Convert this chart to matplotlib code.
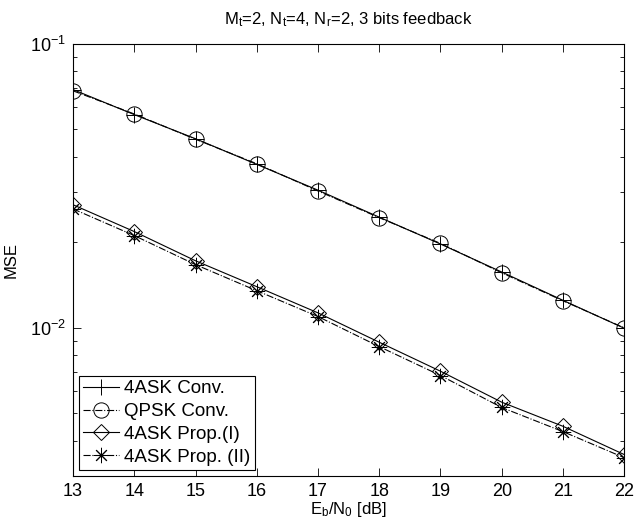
import matplotlib
matplotlib.use("Agg")
import matplotlib.pyplot as plt
from matplotlib.ticker import LogLocator, NullFormatter, FixedLocator

plt.rcParams['font.family'] = ['Liberation Sans', 'DejaVu Sans']
plt.rcParams['mathtext.fontset'] = 'custom'
plt.rcParams['mathtext.rm'] = 'Liberation Sans'
plt.rcParams['mathtext.it'] = 'Liberation Sans'

# --- dati ---
ebn0 = [13, 14, 15, 16, 17, 18, 19, 20, 21, 22]
mse_4ask_conv = [0.0690, 0.0563, 0.0463, 0.0376, 0.0305, 0.0245, 0.0197, 0.0157, 0.01248, 0.00995]
mse_qpsk_conv = [0.0683, 0.0566, 0.0461, 0.0378, 0.0303, 0.0244, 0.0198, 0.0156, 0.01243, 0.00998]
mse_4ask_prop1 = [0.0271, 0.0218, 0.0172, 0.01394, 0.01127, 0.00888, 0.00702, 0.00546, 0.00449, 0.00357]
mse_4ask_prop2 = [0.0262, 0.0211, 0.01667, 0.01349, 0.01094, 0.00857, 0.00678, 0.00523, 0.00430, 0.00348]

labels = ['4ASK Conv.', 'QPSK Conv.', '4ASK Prop.(I)', '4ASK Prop. (II)']

fig = plt.figure(figsize=(6.35, 5.28), dpi=100)
ax = fig.add_axes([0.115, 0.0985, 0.868, 0.8185])

lw = 0.8
ax.plot(ebn0, mse_4ask_conv, color='black', linestyle='-', linewidth=lw,
        marker='+', markersize=12, markeredgewidth=0.7, label=labels[0])
ax.plot(ebn0, mse_qpsk_conv, color='black', linestyle='-.', linewidth=lw,
        marker='o', markersize=11, markerfacecolor='none', markeredgewidth=0.7, label=labels[1])
ax.plot(ebn0, mse_4ask_prop1, color='black', linestyle='-', linewidth=lw,
        marker='D', markersize=8, markerfacecolor='none', markeredgewidth=0.7, label=labels[2])
ax.plot(ebn0, mse_4ask_prop2, color='black', linestyle='-.', linewidth=lw,
        marker=(8, 2, 0), markersize=11, markeredgewidth=0.7, label=labels[3])

ax.set_yscale('log')
ax.set_xlim(13, 22)
ax.set_ylim(0.003, 0.1)
ax.xaxis.set_major_locator(FixedLocator(ebn0))
ax.yaxis.set_major_locator(LogLocator(base=10))
ax.yaxis.set_minor_locator(LogLocator(base=10, subs=range(2, 10)))
ax.yaxis.set_minor_formatter(NullFormatter())

ax.tick_params(which='both', direction='in', top=True, right=True, labelsize=13, width=0.6)
ax.tick_params(which='major', length=6, pad=5)
ax.tick_params(which='minor', length=3)
for s in ax.spines.values():
    s.set_linewidth(0.8)

ax.set_xlabel('E$_\\mathregular{b}$/N$_\\mathregular{0}$ [dB]', fontsize=12, labelpad=0)
ax.set_ylabel('MSE', fontsize=12, labelpad=8)
ax.set_title('M$_\\mathregular{t}$=2, N$_\\mathregular{t}$=4, N$_\\mathregular{r}$=2, 3 bits feedback',
             fontsize=12, pad=14)

leg = ax.legend(loc='lower left', fontsize=13.5, handlelength=1.9, borderaxespad=0.3,
                labelspacing=0.3, handletextpad=0.25, borderpad=0.25, fancybox=False,
                edgecolor='black', framealpha=1)
leg.get_frame().set_linewidth(0.8)

fig.savefig('out.png', dpi=100)
